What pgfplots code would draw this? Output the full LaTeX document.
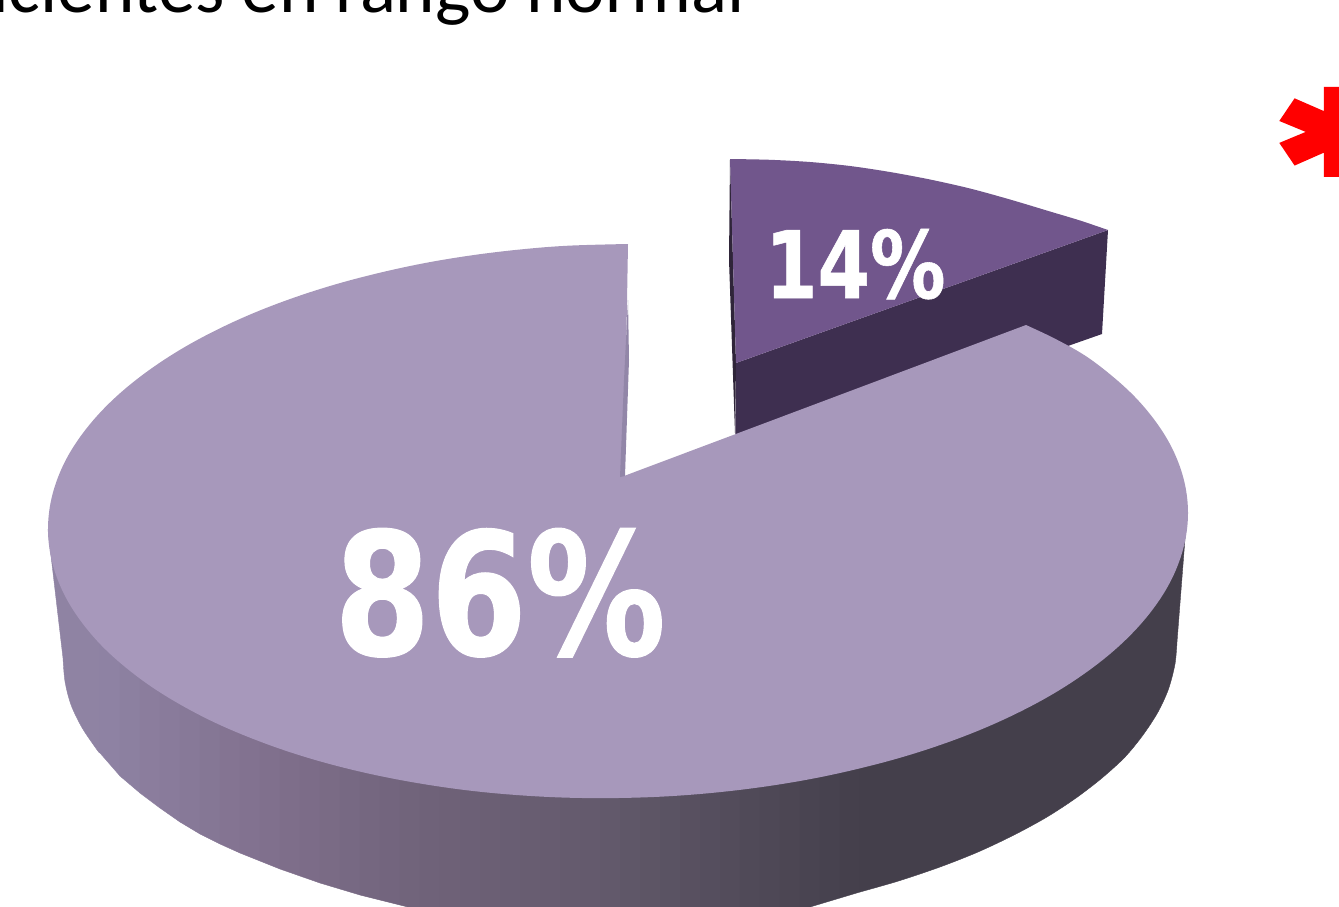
\documentclass[border=0pt]{standalone}
\usepackage{pgfplots}
\pgfplotsset{compat=1.18}
\usepackage{fontspec}
\setmainfont{Carlito}
\newfontfamily\numfont[FakeStretch=0.81,BoldFeatures={FakeStretch=0.81,FakeBold=0.6}]{DejaVu Sans}
\newfontfamily\starfont[FakeStretch=1.25,BoldFeatures={FakeStretch=1.25,FakeBold=8}]{DejaVu Sans}
\definecolor{bigtop}{RGB}{167,152,187}
\definecolor{bigcut}{RGB}{146,134,168}
\definecolor{bigedge}{RGB}{143,131,163}
\definecolor{bigdark}{RGB}{68,63,75}
\definecolor{smalltop}{RGB}{113,86,140}
\definecolor{smallside}{RGB}{62,47,80}
\definecolor{smallcut}{RGB}{47,37,57}
\begin{document}
\begin{tikzpicture}
\path[clip,use as bounding box] (0,0) rectangle (1339pt,907pt);
\begin{axis}[
	at={(0,0)},anchor=south west,
	scale only axis,
	width=1339pt,height=907pt,
	xmin=0,xmax=1339,ymin=0,ymax=907,
	y dir=reverse,
	hide axis,
	colormap={side}{rgb255(100)=(143,131,164) rgb255(270)=(128,112,141) rgb255(430)=(111,98,121) rgb255(600)=(99,90,108) rgb255(760)=(79,73,87) rgb255(860)=(68,63,75)},
	point meta min=100,point meta max=860,
]
% small slice: side first, then the thin cut face, then its top
\addplot[fill=smallside,draw=none] coordinates {(736,363) (1108,230) (1102,334) (735,463)} -- cycle;
\addplot[fill=smallcut,draw=none] coordinates {(730,159) (736,363) (735,433) (729,260)} -- cycle;
\addplot[fill=smalltop,draw=none,smooth,tension=0.5] coordinates {
(730,159) (770,159.8) (810,162) (850,166) (890,172) (930,179.5) (970,188.5)
(1010,199.5) (1050,211.5) (1080,220.5) (1108,230)} -- (axis cs:736,363) -- cycle;
% big slice, rim: left end, shaded strips, right end
\addplot[fill=bigedge,draw=bigedge,smooth,tension=0.5] coordinates {
(63,658) (65,681.5) (71,704.8) (82,727.6) (97,749.8) (100,753)} -- (axis cs:100,600) -- (axis cs:48,530) -- cycle;
\addplot[patch,patch type=rectangle,shader=flat,point meta=x] table[row sep=\\] {
x y\\
100 600\\ 120 600\\ 120 776\\ 100 753\\
120 600\\ 140 600\\ 140 793\\ 120 776\\
140 600\\ 160 600\\ 160 808\\ 140 793\\
160 600\\ 180 600\\ 180 822\\ 160 808\\
180 600\\ 200 600\\ 200 834\\ 180 822\\
200 600\\ 220 600\\ 220 844\\ 200 834\\
220 600\\ 240 600\\ 240 853\\ 220 844\\
240 600\\ 260 600\\ 260 861\\ 240 853\\
260 600\\ 280 600\\ 280 869\\ 260 861\\
280 600\\ 300 600\\ 300 876\\ 280 869\\
300 600\\ 320 600\\ 320 883\\ 300 876\\
320 600\\ 340 600\\ 340 889\\ 320 883\\
340 600\\ 360 600\\ 360 895\\ 340 889\\
360 600\\ 380 600\\ 380 900\\ 360 895\\
380 600\\ 400 600\\ 400 905\\ 380 900\\
400 600\\ 420 600\\ 420 910\\ 400 905\\
420 600\\ 440 600\\ 440 915\\ 420 910\\
440 600\\ 460 600\\ 460 930\\ 440 915\\
460 600\\ 480 600\\ 480 930\\ 460 930\\
480 600\\ 500 600\\ 500 930\\ 480 930\\
500 600\\ 520 600\\ 520 930\\ 500 930\\
520 600\\ 540 600\\ 540 930\\ 520 930\\
540 600\\ 560 600\\ 560 930\\ 540 930\\
560 600\\ 580 600\\ 580 930\\ 560 930\\
580 600\\ 600 600\\ 600 930\\ 580 930\\
600 600\\ 620 600\\ 620 930\\ 600 930\\
620 600\\ 640 600\\ 640 930\\ 620 930\\
640 600\\ 660 600\\ 660 930\\ 640 930\\
660 600\\ 680 600\\ 680 930\\ 660 930\\
680 600\\ 700 600\\ 700 930\\ 680 930\\
700 600\\ 720 600\\ 720 930\\ 700 930\\
720 600\\ 740 600\\ 740 930\\ 720 930\\
740 600\\ 760 600\\ 760 922\\ 740 930\\
760 600\\ 780 600\\ 780 916\\ 760 922\\
780 600\\ 800 600\\ 800 910\\ 780 916\\
800 600\\ 820 600\\ 820 904\\ 800 910\\
820 600\\ 840 600\\ 840 898\\ 820 904\\
840 600\\ 860 600\\ 860 892\\ 840 898\\
};
\addplot[fill=bigdark,draw=bigdark,smooth,tension=0.5] coordinates {
(1177,642) (1175,664) (1168.5,689) (1158,712) (1143,735) (1125,757) (1102,778)
(1076,798) (1047,817) (1014,835) (978,852) (940,867) (898.5,881) (860,892)} -- (axis cs:860,600) -- (axis cs:1187,513) -- cycle;
% big slice, top
\addplot[fill=bigtop,draw=none,smooth,tension=0.6] coordinates {
(628,244) (568.3,245.7) (519,249.6) (470.5,255.5) (423.1,263.4) (377.1,273.4)
(333,285.1) (291,298.7) (251.6,313.9) (214.9,330.8) (181.4,349) (151.1,368.7)
(124.4,389.4) (101.4,411.2) (82.4,433.8) (67.4,457) (56.7,480.8) (50.2,504.8)
(48,529) (50.2,553.2) (56.7,577) (67.4,600.4) (82.4,623.2) (101.4,645.4)
(124.4,666.4) (151.1,686.5) (181.4,705.2) (214.9,722.6) (251.6,738.3) (291,752.5)
(333,764.9) (377.1,775.4) (423.1,784) (470.5,790.7) (519,795.2) (568.3,797.7)
(618,798) (667.7,796.3) (717,792.4) (765.5,786.5) (812.9,778.6) (858.9,768.6)
(903,756.9) (945,743.3) (984.4,728.1) (1021.1,711.2) (1054.6,693) (1084.9,673.3)
(1111.6,652.6) (1134.6,630.8) (1153.6,608.2) (1168.6,585) (1179.3,561.2) (1185.8,537.2)
(1188,513) (1185.8,488.8) (1179.3,465) (1168.6,441.6) (1153.6,418.8) (1134.6,396.6)
(1111.6,375.6) (1084.9,355.5) (1054.6,338.5) (1026,325)} -- (axis cs:624,476) -- cycle;
\addplot[fill=bigcut,draw=none] coordinates {(628,300) (629,360) (625,476) (620,477) (624,380)} -- cycle;
\node[anchor=base west,inner sep=0,text=white,font=\fontsize{171}{171}\numfont\bfseries] at (axis cs:334,655) {86\%};
\node[anchor=base west,inner sep=0,text=white,font=\fontsize{93}{93}\numfont\bfseries] at (axis cs:765,298) {14\%};
\node[anchor=base east,inner sep=0,text=black,font=\fontsize{75}{75}\selectfont] at (axis cs:745,13) {pacientes en rango normal};
\node[anchor=base west,inner sep=0,text=red,font=\fontsize{165}{165}\starfont\bfseries] at (axis cs:1285,216) {*};
\end{axis}
\end{tikzpicture}
\end{document}
